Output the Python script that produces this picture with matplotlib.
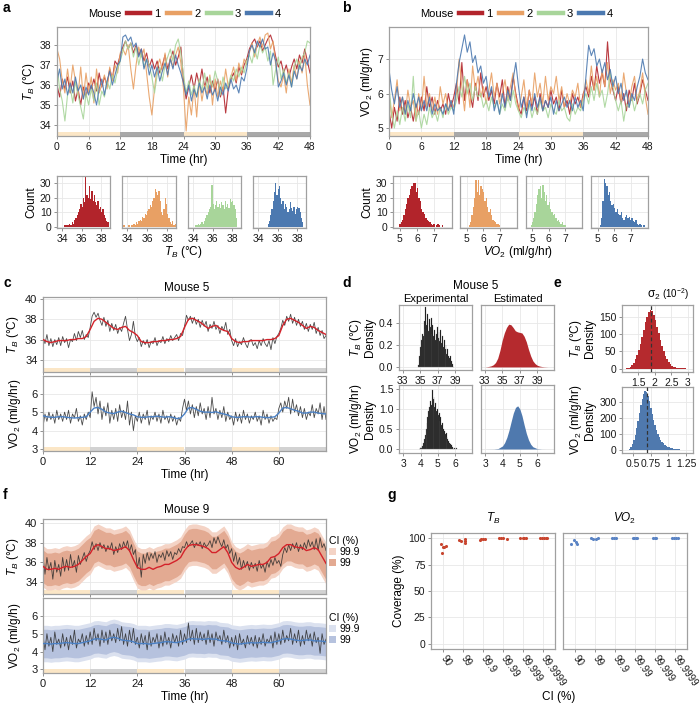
import numpy as np
import matplotlib
matplotlib.use("Agg")
import matplotlib.pyplot as plt
from matplotlib.lines import Line2D
from matplotlib.patches import Patch

plt.rcParams['font.family'] = ['Liberation Sans', 'DejaVu Sans']
plt.rcParams['mathtext.fontset'] = 'custom'
plt.rcParams['mathtext.rm'] = 'Liberation Sans'
plt.rcParams['mathtext.it'] = 'Liberation Sans:italic'
plt.rcParams['mathtext.bf'] = 'Liberation Sans:bold'

# ---------------- data ----------------
mice = ['1', '2', '3', '4']
mouse_colors = ['#b2242b', '#e8a064', '#a8d59a', '#4c79b0']

# panel a: body temperature, 48 h, half-hour samples
tb_m1 = [36.0, 35.4, 36.3, 35.8, 36.4, 35.6, 36.2, 35.2, 35.8, 35.0, 35.9, 35.4, 36.1,
         35.8, 36.3, 35.7, 36.6, 35.9, 36.4, 36.0, 36.8, 36.3, 37.2, 37.0, 37.5,
         37.9, 38.2, 37.8, 38.1, 37.6, 38.0, 37.5, 37.8, 37.2, 37.6, 36.9, 37.3,
         36.8, 37.2, 36.6, 37.0, 37.5, 36.8, 37.3, 37.7, 37.0, 37.4, 37.9, 36.2,
         35.3, 35.9, 36.5, 35.8, 36.6, 36.0, 36.8, 35.9, 36.4, 35.6, 36.2, 35.7,
         36.3, 35.4, 35.9, 34.6, 35.8, 36.3, 36.6, 36.1, 36.9, 36.5, 37.0, 37.3,
         37.8, 38.1, 38.3, 37.9, 38.2, 37.7, 38.0, 38.3, 38.5, 38.1, 37.4, 36.9,
         37.2, 36.6, 37.0, 36.4, 36.9, 37.3, 36.8, 37.5, 37.1, 37.8, 37.2, 36.6]
tb_m2 = [37.8, 37.3, 36.2, 35.6, 36.8, 35.8, 37.0, 36.2, 35.5, 36.9, 35.3, 36.6, 35.6,
         36.4, 35.1, 36.8, 35.6, 36.0, 36.5, 35.8, 36.9, 36.2, 37.0, 36.6, 37.6,
         37.8, 37.5, 38.0, 36.8, 35.8, 37.0, 37.9, 37.4, 37.8, 36.6, 35.4, 34.5,
         35.8, 36.9, 37.3, 36.7, 37.6, 36.4, 37.4, 36.9, 37.5, 37.9, 37.1, 35.8,
         33.7, 35.4, 34.5, 35.9, 34.4, 36.2, 35.2, 36.0, 35.5, 36.5, 35.0, 36.3,
         35.4, 36.2, 35.7, 36.8, 35.9, 36.4, 36.9, 36.2, 37.1, 36.6, 37.3, 37.0,
         37.6, 38.1, 37.4, 38.0, 38.4, 37.9, 38.5, 38.6, 37.8, 38.2, 37.0, 36.2,
         35.9, 36.5, 35.6, 36.8, 36.1, 37.0, 36.3, 37.2, 36.6, 37.5, 36.0, 35.0]
tb_m3 = [37.0, 35.8, 35.2, 34.2, 35.5, 35.9, 35.1, 36.2, 35.5, 34.9, 34.3, 35.6, 35.0,
         35.8, 35.2, 36.1, 35.0, 35.7, 35.4, 36.2, 35.8, 36.5, 36.1, 36.8, 37.2,
         37.7, 38.2, 37.8, 38.1, 37.4, 37.9, 37.0, 37.6, 36.9, 37.3, 37.0, 36.4,
         35.6, 36.5, 36.9, 36.2, 37.0, 37.4, 37.8, 37.2, 38.0, 38.3, 37.6, 36.5,
         35.6, 36.2, 35.5, 36.0, 35.4, 36.3, 35.7, 36.6, 35.8, 36.4, 35.9, 36.7,
         36.2, 35.5, 36.4, 35.8, 36.0, 36.5, 36.2, 36.8, 36.4, 36.9, 36.6, 37.2,
         37.5, 37.1, 37.8, 37.3, 38.0, 37.6, 37.9, 37.2, 37.7, 36.0, 36.8, 37.4,
         36.3, 36.8, 36.1, 36.6, 35.9, 36.9, 37.3, 36.8, 37.4, 37.6, 38.2, 38.1]
tb_m4 = [36.2, 36.8, 35.8, 36.3, 35.5, 36.1, 35.6, 36.4, 35.7, 36.0, 35.3, 35.9, 35.5,
         36.0, 35.6, 35.0, 35.8, 36.3, 35.5, 36.2, 36.7, 36.0, 36.5, 37.0, 37.2,
         38.4, 38.5, 38.2, 38.4, 37.9, 38.1, 37.4, 37.8, 36.8, 37.3, 36.5, 37.0,
         36.4, 36.9, 36.2, 36.7, 37.1, 36.5, 37.3, 36.8, 37.5, 37.0, 36.6, 36.1,
         35.5, 36.0, 35.2, 35.8, 35.4, 36.1, 35.6, 35.9, 35.3, 36.0, 35.5, 35.8,
         35.2, 35.9, 35.5, 36.1, 35.7, 36.3, 35.8, 36.0, 35.6, 36.4, 36.2, 36.8,
         37.7, 38.0, 37.6, 38.2, 37.9, 38.3, 37.8, 37.9, 37.0, 37.6, 37.2, 35.9,
         36.2, 36.6, 36.0, 36.5, 35.9, 36.7, 36.3, 37.0, 36.7, 37.3, 37.0, 37.5]

# panel b: oxygen consumption, 48 h, half-hour samples
vo_m1 = [5.5, 5.0, 5.6, 5.2, 5.9, 5.4, 5.8, 5.3, 5.6, 5.2, 5.7, 5.4, 5.9,
         5.5, 6.2, 5.6, 5.9, 5.4, 5.8, 5.5, 5.7, 5.4, 6.0, 5.6, 5.9,
         6.3, 5.7, 6.9, 5.8, 6.4, 6.0, 5.6, 6.3, 5.8, 6.6, 5.9, 6.2,
         5.8, 6.1, 5.7, 6.3, 5.9, 6.4, 5.6, 6.2, 5.8, 6.5, 6.0, 5.6,
         5.4, 5.9, 5.5, 6.1, 5.6, 5.9, 5.4, 6.0, 5.5, 5.8, 5.6, 6.1,
         5.7, 5.9, 5.5, 6.1, 5.6, 5.8, 5.4, 6.0, 5.7, 5.9, 5.6, 6.0,
         6.2, 5.9, 6.5, 6.1, 6.8, 6.3, 6.6, 6.2, 7.5, 6.4, 6.1, 5.8,
         6.2, 5.7, 6.0, 5.5, 6.1, 5.8, 6.3, 5.7, 6.0, 6.4, 6.1, 5.8]
vo_m2 = [6.0, 5.3, 5.8, 6.4, 5.5, 5.9, 5.4, 6.1, 5.6, 5.8, 5.2, 6.0, 5.5,
         6.5, 5.6, 6.0, 5.5, 5.9, 5.4, 6.2, 5.7, 6.0, 5.5, 5.8, 5.6,
         6.0, 7.0, 6.2, 5.5, 6.4, 5.6, 6.8, 6.1, 6.5, 5.9, 6.2, 5.7,
         6.1, 6.6, 5.9, 6.3, 5.7, 6.0, 6.4, 5.8, 6.2, 6.6, 5.9, 5.5,
         5.9, 6.4, 5.6, 6.1, 5.7, 6.6, 5.9, 6.3, 5.7, 6.5, 5.8, 6.2,
         6.0, 6.5, 5.8, 6.2, 5.6, 6.0, 5.7, 6.1, 5.9, 6.3, 5.6, 5.9,
         6.4, 6.0, 6.8, 6.1, 6.5, 5.9, 6.7, 6.2, 6.9, 6.0, 6.4, 6.1,
         6.3, 5.8, 6.6, 6.0, 5.7, 6.2, 6.5, 5.8, 6.1, 6.6, 5.9, 5.4]
vo_m3 = [6.2, 5.4, 5.0, 5.5, 5.1, 5.6, 5.2, 5.7, 5.3, 6.5, 5.2, 5.5, 5.0,
         5.4, 5.1, 5.6, 5.3, 5.5, 5.2, 5.6, 5.3, 5.7, 5.4, 5.6, 5.5,
         5.8, 6.2, 5.9, 6.5, 6.0, 6.3, 5.8, 6.2, 5.9, 6.0, 5.6, 5.8,
         5.5, 5.9, 5.6, 5.8, 5.4, 5.7, 5.5, 5.9, 5.6, 6.1, 5.7, 5.5,
         5.3, 5.6, 5.4, 5.7, 5.3, 5.6, 5.4, 5.8, 5.5, 5.6, 5.3, 5.7,
         5.5, 5.4, 5.8, 5.5, 5.6, 5.3, 5.2, 5.7, 5.4, 5.6, 5.5, 5.8,
         6.0, 5.7, 6.2, 5.8, 6.3, 5.9, 6.1, 5.6, 6.0, 6.6, 6.2, 5.8,
         5.5, 5.8, 5.2, 5.7, 5.6, 5.9, 5.5, 5.8, 6.0, 5.7, 6.1, 6.3]
vo_m4 = [6.7, 6.1, 5.7, 6.2, 5.6, 5.9, 5.4, 5.8, 5.5, 6.0, 5.6, 5.9, 5.5,
         5.8, 5.5, 5.9, 5.4, 5.7, 5.5, 5.6, 5.4, 5.7, 5.5, 5.8, 5.4,
         6.3, 6.9, 7.3, 7.7, 7.2, 7.5, 6.9, 7.1, 6.6, 6.8, 6.3, 6.5,
         5.9, 6.2, 5.5, 5.8, 5.4, 6.0, 5.6, 6.1, 5.8, 6.4, 6.9, 6.2,
         5.6, 5.9, 5.3, 5.8, 5.5, 6.0, 5.6, 5.9, 5.5, 5.8, 5.6, 5.9,
         5.4, 5.8, 5.5, 5.7, 5.9, 5.6, 5.8, 5.5, 5.9, 5.6, 5.8, 5.5,
         6.5, 7.4, 7.1, 7.3, 6.8, 7.0, 6.6, 6.9, 6.4, 6.7, 6.2, 6.5,
         6.0, 6.3, 5.8, 6.1, 5.6, 6.0, 5.8, 6.2, 6.5, 7.0, 6.6, 6.4]

# histogram counts (panel a: bins of 0.125 from 33.5; panel b: bins of 0.08 from 4.8)
tb_bin_start, tb_bin_w = 33.5, 0.125
tb_counts = [
    [0, 0, 0, 0, 0, 0, 1, 1, 1, 1, 2, 1, 3, 2, 5, 6, 8, 10, 12, 16, 14, 20, 17, 34, 22, 20,
     28, 19, 25, 18, 22, 17, 15, 18, 12, 14, 10, 12, 8, 6, 4, 3, 0, 0],
    [0, 1, 0, 0, 0, 1, 0, 1, 1, 2, 1, 3, 2, 4, 5, 4, 7, 6, 9, 8, 11, 12, 15, 14, 18, 20,
     26, 24, 22, 25, 18, 10, 8, 12, 20, 16, 9, 6, 3, 2, 4, 1, 2, 1],
    [0, 0, 0, 0, 0, 0, 1, 1, 2, 1, 2, 3, 2, 4, 6, 8, 10, 12, 14, 29, 16, 12, 15, 18, 14, 16,
     13, 17, 15, 12, 18, 14, 16, 13, 19, 17, 18, 15, 12, 6, 0, 0, 0, 0],
    [0, 0, 0, 0, 0, 0, 0, 0, 0, 0, 0, 0, 2, 4, 8, 12, 18, 24, 30, 22, 26, 28, 20, 16, 18, 12,
     16, 14, 10, 12, 17, 13, 11, 14, 9, 12, 14, 13, 10, 6, 3, 0, 0, 0]]
vo_bin_start, vo_bin_w = 4.8, 0.08
vo_counts = [
    [0, 0, 2, 3, 5, 8, 12, 16, 20, 22, 26, 28, 30, 30, 24, 27, 20, 18, 12, 10,
     9, 6, 5, 4, 3, 2, 1, 2, 0, 1, 2, 1, 0, 1, 0, 0, 0, 0, 0, 0],
    [0, 0, 0, 0, 1, 3, 8, 14, 20, 32, 24, 32, 22, 28, 26, 24, 18, 20, 14, 10,
     12, 8, 5, 4, 3, 2, 2, 1, 0, 0, 0, 0, 0, 0, 0, 0, 0, 0, 0, 0],
    [0, 1, 3, 6, 10, 16, 22, 26, 28, 20, 29, 24, 18, 22, 15, 17, 12, 10, 8, 9,
     6, 4, 5, 3, 2, 3, 1, 1, 0, 0, 0, 0, 0, 0, 0, 0, 0, 0, 0, 0],
    [0, 0, 0, 0, 1, 6, 18, 33, 30, 28, 22, 24, 18, 15, 16, 13, 10, 12, 9, 8,
     10, 6, 5, 7, 8, 6, 7, 5, 6, 4, 3, 5, 2, 1, 2, 1, 0, 1, 0, 0]]

# light / dark periods (start hour, 12 h each)
light_starts = [0, 24, 48]
dark_starts = [12, 36, 60]

# panel c: mouse 5, 72 h (half-hour raw, hourly fit)
c_tb_raw = [36.3, 35.6, 36.5, 35.4, 36.1, 35.3, 36.0, 35.5, 36.2, 35.4, 36.3, 35.7,
            36.1, 35.2, 36.0, 35.8, 36.6, 35.9, 36.8, 36.2, 36.9, 36.0, 36.5, 36.2,
            37.2, 38.3, 38.7, 38.2, 38.6, 37.9, 37.4, 38.2, 37.3, 37.9, 36.8, 37.6,
            36.9, 37.5, 36.6, 37.2, 36.8, 37.6, 38.3, 37.0, 35.9, 36.5, 37.8, 36.3,
            35.8, 36.2, 35.3, 35.9, 35.5, 36.0, 35.2, 35.8, 35.6, 36.2, 35.4, 35.9,
            35.7, 36.3, 35.6, 36.1, 35.8, 36.4, 35.9, 36.2, 36.5, 35.9, 36.6, 36.4,
            37.3, 38.4, 37.9, 38.3, 37.6, 38.2, 37.5, 38.0, 37.2, 37.9, 37.3, 37.8,
            36.8, 37.5, 37.1, 37.8, 37.0, 37.4, 36.6, 37.3, 36.9, 37.7, 36.5, 37.0,
            35.9, 35.4, 36.1, 35.3, 35.8, 35.5, 36.2, 35.6, 35.2, 35.9, 36.0, 35.4,
            35.7, 35.1, 35.9, 35.4, 36.1, 35.6, 35.3, 35.9, 35.0, 36.2, 35.6, 36.3,
            36.6, 37.1, 37.9, 37.4, 38.3, 37.8, 38.5, 37.6, 38.2, 37.4, 38.0, 37.3,
            37.8, 37.0, 37.6, 36.8, 37.5, 37.0, 37.7, 36.6, 37.2, 36.4, 36.9, 36.1, 36.4]
c_tb_fit = [36.0, 35.8, 35.7, 35.8, 35.9, 35.9, 35.9, 36.0, 36.0, 36.1, 36.1, 36.3,
            37.0, 37.8, 38.1, 38.0, 37.7, 37.4, 37.1, 37.0, 37.2, 37.3, 36.9, 36.7,
            36.4, 35.8, 35.7, 35.7, 35.8, 35.8, 35.9, 35.9, 36.0, 36.0, 36.1, 36.3,
            37.2, 38.0, 38.1, 37.9, 37.7, 37.4, 37.1, 37.3, 37.4, 37.1, 36.9, 36.8,
            36.1, 35.8, 35.7, 35.8, 35.8, 35.9, 35.9, 35.9, 35.9, 36.0, 36.0, 36.1,
            36.4, 37.4, 38.0, 38.1, 37.9, 37.7, 37.4, 37.1, 37.3, 37.2, 36.9, 36.7, 36.5]
c_vo_raw = [4.2, 4.9, 4.5, 5.0, 4.6, 4.9, 4.4, 5.1, 4.6, 4.9, 4.5, 5.0,
            4.6, 5.1, 4.4, 4.9, 4.7, 5.2, 4.5, 4.8, 4.3, 4.9, 4.6, 5.0,
            4.7, 6.1, 5.3, 5.8, 4.9, 5.6, 4.6, 5.3, 4.8, 5.5, 4.4, 5.1,
            4.6, 5.2, 4.5, 5.4, 4.7, 5.1, 4.6, 5.6, 4.3, 5.0, 4.0, 4.8,
            4.5, 5.0, 4.4, 4.9, 4.6, 5.1, 4.3, 4.8, 4.6, 5.0, 4.5, 4.9,
            4.4, 5.1, 4.6, 4.8, 4.4, 4.9, 4.5, 4.8, 4.3, 4.7, 4.5, 5.2,
            5.7, 5.1, 5.6, 4.9, 5.4, 4.7, 5.3, 4.8, 5.5, 4.9, 5.2, 4.6,
            5.3, 4.7, 5.8, 4.9, 5.2, 4.6, 5.1, 4.7, 5.3, 4.5, 5.0, 4.6,
            4.8, 4.3, 5.0, 4.5, 4.9, 4.4, 5.1, 4.6, 4.9, 4.4, 4.8, 4.6,
            5.0, 4.5, 4.8, 4.3, 5.1, 4.6, 4.9, 4.4, 4.8, 4.5, 4.7, 4.6,
            5.2, 5.5, 5.0, 5.6, 5.2, 5.8, 4.9, 5.7, 5.0, 5.4, 4.8, 5.3,
            4.7, 5.2, 4.6, 5.0, 4.8, 5.4, 4.7, 5.2, 4.9, 5.5, 4.6, 5.3, 4.6]
c_vo_fit = [4.8, 4.75, 4.72, 4.72, 4.75, 4.75, 4.72, 4.7, 4.68, 4.7, 4.72, 4.75,
            5.0, 5.22, 5.25, 5.15, 5.0, 4.95, 4.92, 5.0, 5.05, 4.98, 4.9, 4.85,
            4.75, 4.72, 4.72, 4.75, 4.75, 4.78, 4.75, 4.72, 4.75, 4.72, 4.65, 4.68,
            4.9, 5.22, 5.25, 5.15, 5.05, 5.0, 5.0, 4.98, 5.02, 4.95, 4.9, 4.85,
            4.75, 4.72, 4.72, 4.75, 4.75, 4.72, 4.75, 4.75, 4.72, 4.7, 4.72, 4.75,
            4.95, 5.22, 5.25, 5.18, 5.1, 5.05, 4.95, 4.95, 5.0, 5.0, 4.95, 4.92, 4.9]

# panel d: mouse 5 densities
d_tb_bin_start, d_tb_bin_w = 34.8, 0.1
d_tb_dens = [0.02, 0.1, 0.18, 0.25, 0.3, 0.28, 0.42, 0.35, 0.55, 0.38, 0.48, 0.33, 0.44,
             0.36, 0.45, 0.3, 0.38, 0.28, 0.34, 0.25, 0.3, 0.36, 0.26, 0.32, 0.24, 0.34,
             0.22, 0.28, 0.18, 0.25, 0.16, 0.2, 0.12, 0.16, 0.1, 0.08, 0.1, 0.05, 0.03, 0.0]
d_vo_bin_start, d_vo_bin_w = 3.9, 0.05
d_vo_dens = [0.0, 0.02, 0.04, 0.03, 0.08, 0.15, 0.25, 0.35, 0.5, 0.65, 0.8, 0.95, 1.05,
             1.2, 1.1, 1.48, 1.25, 1.3, 1.05, 1.15, 0.95, 1.0, 0.85, 0.9, 0.7, 0.8, 0.6,
             0.65, 0.5, 0.45, 0.38, 0.4, 0.3, 0.25, 0.2, 0.15, 0.12, 0.1, 0.05, 0.02, 0.0,
             0.02, 0.01, 0.02]
est_tb_x = [33.0, 33.25, 33.5, 33.75, 34.0, 34.25, 34.5, 34.75, 35.0, 35.25, 35.5, 35.75,
            36.0, 36.25, 36.5, 36.75, 37.0, 37.25, 37.5, 37.75, 38.0, 38.25, 38.5, 38.75,
            39.0, 39.25, 39.5, 39.75, 40.0, 40.25]
est_tb_y = [0.0, 0.002, 0.005, 0.01, 0.02, 0.04, 0.08, 0.15, 0.24, 0.31, 0.36, 0.39,
            0.385, 0.36, 0.33, 0.32, 0.315, 0.31, 0.28, 0.23, 0.16, 0.1, 0.055, 0.03,
            0.015, 0.008, 0.004, 0.002, 0.001, 0.0]
est_vo_x = [3.0, 3.5, 3.75, 4.0, 4.125, 4.25, 4.375, 4.5, 4.625, 4.75, 4.875, 5.0, 5.125,
            5.25, 5.375, 5.5, 5.625, 5.75, 6.0, 6.25, 6.5]
est_vo_y = [0.0, 0.002, 0.013, 0.077, 0.16, 0.29, 0.47, 0.69, 0.9, 1.04, 1.08, 1.0, 0.83,
            0.6, 0.39, 0.23, 0.12, 0.056, 0.009, 0.001, 0.0]

# panel e: posterior of sigma_2 (x 1e-2)
e_tb_bin_start, e_tb_bin_w = 1.1, 0.05
e_tb_dens = [0, 1, 3, 5, 10, 17, 27, 40, 55, 73, 92, 113, 135, 152, 165, 172, 168, 158, 142,
             123, 103, 84, 66, 50, 37, 27, 19, 13, 9, 6, 4, 3, 2, 1, 1, 0.5, 0.5, 0]
e_tb_mean = 1.9
e_vo_bin_start, e_vo_bin_w = 0.42, 0.02
e_vo_dens = [2, 8, 18, 35, 60, 95, 135, 180, 230, 280, 320, 355, 372, 365, 340, 305, 265,
             225, 188, 155, 125, 100, 80, 63, 50, 40, 32, 25, 20, 16, 13, 10, 8, 6, 5, 4, 3,
             2, 2, 1, 1, 1, 0.5]
e_vo_mean = 0.70

# panel f: mouse 9 with credible intervals
f_tb_raw = [36.6, 34.8, 36.5, 35.2, 36.0, 34.3, 36.2, 35.0, 35.8, 34.6, 36.5, 35.1,
            36.3, 35.2, 36.8, 35.5, 36.2, 35.0, 36.7, 35.8, 36.4, 37.0, 36.1, 36.8,
            37.2, 38.1, 37.3, 37.9, 37.2, 38.0, 37.4, 37.8, 37.1, 37.7, 37.3, 38.0,
            36.8, 37.6, 37.0, 37.9, 37.3, 38.1, 37.5, 38.2, 37.1, 37.8, 36.8, 37.3,
            35.4, 36.5, 34.5, 36.8, 35.9, 37.0, 36.2, 36.9, 36.4, 37.1, 36.0, 36.8,
            36.5, 37.0, 36.2, 37.2, 36.6, 37.1, 36.3, 37.0, 36.8, 37.4, 37.0, 37.6,
            37.5, 38.1, 37.6, 37.9, 38.2, 37.5, 38.0, 37.7, 38.1, 37.4, 38.0, 37.6,
            37.8, 38.2, 37.5, 38.5, 37.9, 38.6, 38.0, 37.6, 38.3, 37.4, 37.8, 36.9,
            37.4, 36.1, 37.0, 35.8, 36.5, 35.3, 36.2, 35.5, 36.1, 35.2, 36.0, 35.4,
            35.9, 35.1, 36.2, 35.4, 35.8, 35.0, 36.1, 35.5, 36.3, 35.7, 36.5, 35.9,
            36.2, 35.6, 36.8, 37.5, 37.0, 37.8, 37.2, 37.9, 37.4, 38.0, 37.1, 37.8,
            37.3, 38.0, 37.4, 38.3, 37.6, 38.1, 37.3, 38.4, 37.2, 38.5, 37.5, 37.9, 37.2]
f_tb_fit = [35.6, 35.3, 35.3, 35.4, 35.3, 35.5, 35.6, 35.5, 35.6, 35.8, 36.2, 36.6,
            36.9, 37.6, 37.8, 37.6, 37.4, 37.4, 37.2, 37.3, 37.4, 37.6, 37.2, 36.3,
            35.5, 35.3, 35.3, 35.5, 35.3, 35.5, 35.6, 35.8, 35.8, 36.0, 36.2, 36.5,
            37.2, 37.7, 37.8, 37.8, 37.7, 37.6, 37.4, 37.0, 37.0, 37.3, 37.6, 37.0,
            36.0, 35.5, 35.3, 35.5, 35.8, 35.6, 35.7, 35.8, 35.8, 36.0, 36.5, 36.6,
            36.9, 37.5, 37.8, 37.8, 37.6, 37.5, 37.5, 37.2, 37.3, 37.5, 37.3, 36.6, 35.9]
f_vo_raw = [4.9, 4.1, 5.0, 4.3, 4.8, 4.0, 5.1, 4.4, 4.7, 4.2, 5.0, 4.3,
            4.8, 4.1, 4.9, 4.4, 5.2, 4.2, 4.7, 4.5, 5.0, 4.3, 4.9, 4.4,
            5.1, 4.4, 5.3, 4.6, 5.0, 4.3, 5.2, 4.5, 5.1, 4.4, 5.2, 4.6,
            5.0, 4.5, 5.3, 4.6, 5.4, 4.4, 5.0, 4.3, 5.2, 4.5, 5.3, 4.4,
            4.8, 4.2, 5.0, 4.4, 4.9, 4.1, 5.1, 4.3, 4.8, 4.5, 5.0, 4.2,
            4.9, 4.3, 5.1, 4.4, 4.8, 4.2, 5.0, 4.5, 4.9, 4.3, 5.2, 4.4,
            5.0, 4.5, 5.6, 4.6, 5.2, 4.4, 5.3, 4.5, 5.1, 4.6, 5.0, 4.4,
            5.2, 4.5, 5.0, 4.3, 5.1, 4.6, 4.9, 4.4, 5.2, 4.5, 4.9, 4.2,
            4.8, 4.3, 4.9, 4.1, 5.0, 4.4, 4.7, 4.2, 4.9, 4.4, 4.8, 4.3,
            4.9, 4.2, 4.8, 4.4, 5.0, 4.3, 4.7, 4.5, 4.9, 4.2, 5.1, 4.4,
            5.0, 4.4, 5.2, 4.5, 4.9, 4.6, 5.3, 4.4, 5.0, 4.5, 5.2, 4.3,
            4.9, 4.4, 5.2, 4.6, 5.0, 4.3, 5.1, 4.5, 4.8, 3.9, 5.0, 4.4, 4.7]
f_vo_fit = [4.45, 4.45, 4.42, 4.45, 4.45, 4.48, 4.5, 4.48, 4.45, 4.45, 4.5, 4.55,
            4.6, 4.7, 4.72, 4.68, 4.65, 4.75, 4.8, 4.75, 4.65, 4.62, 4.6, 4.55,
            4.45, 4.45, 4.45, 4.42, 4.45, 4.48, 4.5, 4.55, 4.55, 4.52, 4.5, 4.55,
            4.6, 4.7, 4.72, 4.7, 4.7, 4.68, 4.72, 4.7, 4.7, 4.62, 4.6, 4.58,
            4.48, 4.45, 4.42, 4.45, 4.48, 4.5, 4.48, 4.5, 4.52, 4.5, 4.5, 4.55,
            4.6, 4.7, 4.72, 4.7, 4.65, 4.62, 4.62, 4.65, 4.65, 4.6, 4.6, 4.58, 4.55]
ci_levels = ['99.9', '99']
f_tb_halfwidth = [2.1, 1.65]
f_vo_halfwidth = [1.02, 0.8]

# panel g: coverage
ci_labels = ['90', '99', '99.9', '99.99', '99.999', '99.9999']
g_tb_ci = [0, 0, 0, 0, 0, 1, 1, 1, 1, 1, 2, 2, 2, 2, 3, 3, 3, 3, 4, 4, 4, 4, 5, 5, 5, 5, 5]
g_tb_jit = [-0.12, -0.05, 0.0, 0.07, 0.15, -0.2, -0.12, 0.1, 0.1, 0.1, -0.17, -0.08, 0.0, 0.1,
            -0.18, -0.1, -0.02, 0.2, -0.13, -0.02, 0.07, 0.17, -0.17, -0.07, 0.03, 0.13, 0.22]
g_tb_cov = [94.5, 86, 91.5, 92, 92.5, 98.3, 97, 99.4, 97.5, 95.3, 98.6, 99.1, 99.4, 99.5,
            100, 100, 100, 99.4, 100, 100, 100, 100, 100, 100, 100, 100, 100]
g_vo_ci = [0, 0, 0, 0, 1, 1, 1, 1, 2, 2, 2, 3, 3, 3, 3, 4, 4, 4, 5, 5, 5, 5]
g_vo_jit = [-0.22, -0.05, 0.03, 0.12, -0.22, -0.1, 0.03, 0.17, -0.15, -0.05, 0.05,
            -0.12, -0.05, 0.03, 0.1, -0.1, -0.02, 0.07, -0.13, -0.03, 0.07, 0.15]
g_vo_cov = [94.3, 98.5, 96.8, 94.3, 100, 99.7, 99.7, 100, 100, 100, 99.8,
            100, 100, 100, 99.8, 100, 100, 100, 100, 100, 100, 100]

# ---------------- drawing ----------------
W, H = 700, 703
fig = plt.figure(figsize=(7, 7.03), dpi=100)

DAY = '#fbe6c6'


def add_ax(x0, y0, x1, y1):
    return fig.add_axes([x0 / W, 1 - y1 / H, (x1 - x0) / W, (y1 - y0) / H])


def style(ax, fs=7.5):
    for s in ax.spines.values():
        s.set_color('#a0a0a0')
        s.set_linewidth(0.9)
    ax.grid(True, color='#e8e8e8', lw=0.6)
    ax.set_axisbelow(True)
    ax.tick_params(length=2.5, width=0.6, color='#808080', labelsize=fs, pad=1.5,
                   labelcolor='#1a1a1a')


def strips(ax, night, frac):
    for s in light_starts:
        ax.axvspan(s, s + 12, ymin=0, ymax=frac, color=DAY, lw=0, zorder=1.5)
    for s in dark_starts:
        ax.axvspan(s, s + 12, ymin=0, ymax=frac, color=night, lw=0, zorder=1.5)


def ftext(x, y, s, **kw):
    fig.text(x / W, 1 - y / H, s, **kw)


# panel letters
for lab, x, y in [('a', 3, 8), ('b', 342, 8), ('c', 3, 283), ('d', 342, 283),
                  ('e', 553, 283), ('f', 3, 495), ('g', 387, 495)]:
    ftext(x, y, lab, fontsize=10, fontweight='bold', ha='left', va='center')

# ---- a / b time series
tb_all = [tb_m1, tb_m2, tb_m3, tb_m4]
vo_all = [vo_m1, vo_m2, vo_m3, vo_m4]
for data, (x0, x1), ylim, yt, ylab in [
        (tb_all, (57, 310), (33.45, 38.9), [34, 35, 36, 37, 38], r'$T_B$ (°C)'),
        (vo_all, (389, 648), (4.77, 7.93), [5, 6, 7], r'VO$_2$ (ml/g/hr)')]:
    ax = add_ax(x0, 27, x1, 136)
    style(ax)
    for vals, col in zip(data, mouse_colors):
        t = np.linspace(0, 48, len(vals))
        ax.plot(t, vals, color=col, lw=0.8, alpha=0.9, zorder=2)
    ax.set_xlim(0, 48)
    ax.set_ylim(*ylim)
    ax.set_xticks(range(0, 49, 6))
    ax.set_yticks(yt)
    strips(ax, '#a9a9a9', 0.037)
    ax.set_xlabel('Time (hr)', fontsize=8.5, labelpad=2)
    ax.set_ylabel(ylab, fontsize=8.5, labelpad=2)

    handles = [Line2D([], [], color=c, lw=3.2) for c in mouse_colors]
    fig.legend(handles, mice, ncol=4, loc='center left',
               bbox_to_anchor=((x0 + 70) / W, 1 - 14 / H), frameon=False,
               handlelength=2.1, handletextpad=0.35, columnspacing=0.6,
               fontsize=8, borderaxespad=0, borderpad=0)
    ftext(x0 + 31, 14, 'Mouse', fontsize=8, ha='left', va='center')

# ---- a / b histograms
hist_specs = [
    (tb_counts, tb_bin_start, tb_bin_w, [(57, 110), (122, 176), (188, 241), (253, 306)],
     (33.5, 38.9), [34, 36, 38], r'$T_B$ (°C)', 183),
    (vo_counts, vo_bin_start, vo_bin_w, [(393, 452), (460, 517), (526, 582), (591, 648)],
     (4.6, 8.05), [5, 6, 7], r'$VO_2$ (ml/g/hr)', 518)]
for counts_all, b0, bw, xs, xlim, xt, xlab, xc in hist_specs:
    for i, (counts, col, (x0, x1)) in enumerate(zip(counts_all, mouse_colors, xs)):
        ax = add_ax(x0, 176, x1, 228)
        style(ax, 7.5)
        edges = b0 + bw * np.arange(len(counts))
        ax.bar(edges, counts, width=bw, align='edge', color=col, lw=0, zorder=2)
        ax.set_xlim(*xlim)
        ax.set_ylim(-0.8, 35)
        ax.set_xticks(xt)
        ax.set_yticks([0, 10, 20, 30])
        if i == 0:
            ax.set_ylabel('Count', fontsize=8.5, labelpad=2)
        else:
            ax.tick_params(axis='y', left=False, labelleft=False)
    ftext(xc, 252, xlab, fontsize=8.5, ha='center', va='center')

# ---- c and f (stacked time series)
t72_hour = np.linspace(0, 72, len(c_tb_fit))


def stacked(ytop, title, tb_raw, tb_fit, vo_raw, vo_fit, tb_lim, vo_lim, vo_label,
            bands=False):
    ax1 = add_ax(43, ytop, 326, ytop + 75)
    ax2 = add_ax(43, ytop + 79, 326, ytop + 154)
    for ax in (ax1, ax2):
        style(ax, 8)
        ax.set_xlim(0, 72)
        ax.set_xticks(range(0, 61, 12))
        strips(ax, '#d2d2d2', 0.055)
    if bands:
        for hw, col in zip(f_tb_halfwidth, ['#f4d3c5', '#e3aa92']):
            ax1.fill_between(t72_hour, np.array(tb_fit) - hw, np.array(tb_fit) + hw,
                             color=col, lw=0, zorder=1.6)
        for hw, col in zip(f_vo_halfwidth, ['#dbe1ef', '#b6c2de']):
            ax2.fill_between(t72_hour, np.array(vo_fit) - hw, np.array(vo_fit) + hw,
                             color=col, lw=0, zorder=1.6)
    ax1.plot(np.linspace(0, 72, len(tb_raw)), tb_raw, color='#2b2b2b', lw=0.6, alpha=0.85,
             zorder=2)
    ax1.plot(np.linspace(0, 72, len(tb_fit)), tb_fit, color='#d4222a', lw=1.0, zorder=3)
    ax2.plot(np.linspace(0, 72, len(vo_raw)), vo_raw, color='#2b2b2b', lw=0.6, alpha=0.85,
             zorder=2)
    ax2.plot(np.linspace(0, 72, len(vo_fit)), vo_fit, color='#4a80c4', lw=1.0, zorder=3)
    ax1.set_ylim(*tb_lim)
    ax1.set_yticks([34, 36, 38, 40])
    ax1.tick_params(axis='x', labelbottom=False)
    ax2.set_ylim(*vo_lim)
    ax2.set_yticks([3, 4, 5, 6])
    ax1.set_ylabel(r'$T_B$ (°C)', fontsize=8.5, labelpad=3)
    ax2.set_ylabel(vo_label, fontsize=8.5, labelpad=6)
    ax2.set_xlabel('Time (hr)', fontsize=8.5, labelpad=2)
    ftext(187, ytop - 9, title, fontsize=8.5, ha='center', va='center')
    return ax1, ax2


stacked(297, 'Mouse 5', c_tb_raw, c_tb_fit, c_vo_raw, c_vo_fit, (32.8, 40.2), (2.9, 6.95),
        r'VO$_2$ (ml/g/hr)')
f1, f2 = stacked(519, 'Mouse 9', f_tb_raw, f_tb_fit, f_vo_raw, f_vo_fit, (32.8, 40.4),
                 (2.8, 7.0), r'VO$_2$ (ml/g/h)', bands=True)

for ax, ytop, cols in [(f1, 536, ['#f4d3c5', '#e3aa92']), (f2, 613, ['#dbe1ef', '#b6c2de'])]:
    hdl = [Patch(facecolor=c, edgecolor='none') for c in cols]
    lg = fig.legend(hdl, ci_levels, title='CI (%)', loc='upper left',
                    bbox_to_anchor=(329 / W, 1 - ytop / H), frameon=False, fontsize=7.5,
                    title_fontsize=7.5, handlelength=0.7, handleheight=0.7,
                    handletextpad=0.3, labelspacing=0.1, borderpad=0, borderaxespad=0)
    lg._legend_box.align = 'left'

# ---- d
ftext(476, 286, 'Mouse 5', fontsize=8.5, ha='center', va='center')
d_tl = add_ax(399, 305, 472, 370)
d_tr = add_ax(481, 305, 554, 370)
d_bl = add_ax(399, 385, 472, 453)
d_br = add_ax(481, 385, 554, 453)
for ax in (d_tl, d_tr, d_bl, d_br):
    style(ax, 7.5)
d_tl.bar(d_tb_bin_start + d_tb_bin_w * np.arange(len(d_tb_dens)), d_tb_dens,
         width=d_tb_bin_w, align='edge', color='black', edgecolor='#777777', lw=0.2,
         zorder=2)
d_bl.bar(d_vo_bin_start + d_vo_bin_w * np.arange(len(d_vo_dens)), d_vo_dens,
         width=d_vo_bin_w, align='edge', color='black', edgecolor='#777777', lw=0.2,
         zorder=2)
d_tr.fill_between(est_tb_x, 0, est_tb_y, color='#b52a2e', lw=0, zorder=2)
d_br.fill_between(est_vo_x, 0, est_vo_y, color='#4f79ae', lw=0, zorder=2)
for ax in (d_tl, d_tr):
    ax.set_xlim(32.6, 40.9)
    ax.set_ylim(-0.028, 0.565)
    ax.set_xticks([33, 35, 37, 39])
    ax.set_yticks([0.0, 0.2, 0.4])
for ax in (d_bl, d_br):
    ax.set_xlim(2.76, 6.97)
    ax.set_ylim(-0.1, 1.6)
    ax.set_xticks([3, 4, 5, 6])
    ax.set_yticks([0.0, 0.5, 1.0, 1.5])
d_tl.yaxis.set_major_formatter(matplotlib.ticker.FormatStrFormatter('%.1f'))
d_bl.yaxis.set_major_formatter(matplotlib.ticker.FormatStrFormatter('%.1f'))
for ax in (d_tr, d_br):
    ax.tick_params(axis='y', left=False, labelleft=False)
d_tl.set_title('Experimental', fontsize=8, pad=2)
d_tr.set_title('Estimated', fontsize=8, pad=2)
d_tl.set_ylabel('$T_B$ (°C)\nDensity', fontsize=8.5, labelpad=2, linespacing=1.0)
d_bl.set_ylabel('VO$_2$ (ml/g/hr)\nDensity', fontsize=8.5, labelpad=2, linespacing=1.0)

# ---- e
e_t = add_ax(622, 305, 693, 372)
e_b = add_ax(622, 387, 693, 453)
for ax in (e_t, e_b):
    style(ax, 7.5)
e_t.bar(e_tb_bin_start + e_tb_bin_w * np.arange(len(e_tb_dens)), e_tb_dens,
        width=e_tb_bin_w, align='edge', color='#b52a2e', lw=0, zorder=2)
e_b.bar(e_vo_bin_start + e_vo_bin_w * np.arange(len(e_vo_dens)), e_vo_dens,
        width=e_vo_bin_w, align='edge', color='#4f79ae', lw=0, zorder=2)
e_t.axvline(e_tb_mean, color='#333333', ls=(0, (3, 2)), lw=0.9, zorder=3)
e_b.axvline(e_vo_mean, color='#333333', ls=(0, (3, 2)), lw=0.9, zorder=3)
e_t.set_xlim(1.02, 3.15)
e_t.set_ylim(-10, 186)
e_t.set_xticks([1.5, 2, 2.5, 3])
e_t.set_xticklabels(['1.5', '2', '2.5', '3'])
e_t.set_yticks([0, 50, 100, 150])
e_b.set_xlim(0.34, 1.35)
e_b.set_ylim(-20, 396)
e_b.set_xticks([0.5, 0.75, 1, 1.25])
e_b.set_xticklabels(['0.5', '0.75', '1', '1.25'])
e_b.set_yticks([0, 100, 200, 300])
e_t.set_ylabel('$T_B$ (°C)\nDensity', fontsize=8.5, labelpad=2, linespacing=1.0)
e_b.set_ylabel('VO$_2$ (ml/g/hr)\nDensity', fontsize=8.5, labelpad=2, linespacing=1.0)
ftext(654, 295, 'σ$_2$', fontsize=8.5, ha='center', va='center')
ftext(675, 294, '(10$^{-2}$)', fontsize=7, ha='center', va='center')

# ---- g
g_l = add_ax(431, 533, 555, 649)
g_r = add_ax(563, 533, 687, 649)
for ax, ci, jit, cov, col, ttl in [
        (g_l, g_tb_ci, g_tb_jit, g_tb_cov, '#c8452f', r'$T_B$'),
        (g_r, g_vo_ci, g_vo_jit, g_vo_cov, '#5b84c4', r'$VO_2$')]:
    style(ax, 7.5)
    ax.scatter(np.array(ci) + np.array(jit), cov, s=5, color=col, lw=0, zorder=3)
    ax.set_xlim(-0.6, 5.6)
    ax.set_ylim(-5, 105)
    ax.set_yticks([0, 25, 50, 75, 100])
    ax.set_xticks(range(len(ci_labels)))
    ax.set_xticklabels(ci_labels, rotation=-55, ha='left', va='center',
                       rotation_mode='anchor', fontsize=7)
    ax.tick_params(axis='x', pad=3)
    ax.set_title(ttl, fontsize=8.5, pad=8)
g_r.tick_params(axis='y', left=False, labelleft=False)
g_l.set_ylabel('Coverage (%)', fontsize=8.5, labelpad=2)
ftext(559, 697, 'CI (%)', fontsize=8.5, ha='center', va='center')

fig.savefig('out.png', dpi=100)
